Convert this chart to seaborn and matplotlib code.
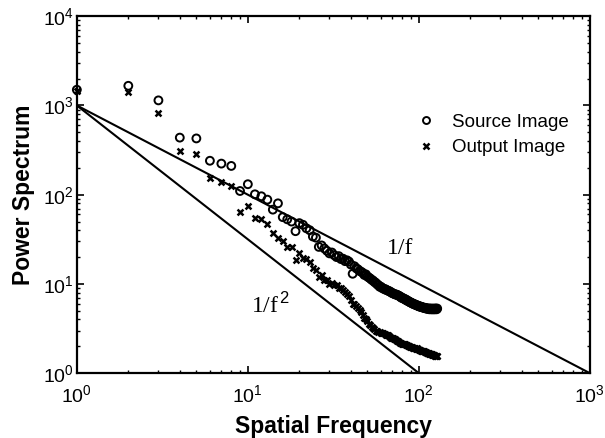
import numpy as np
import pandas as pd
import matplotlib
matplotlib.use("Agg")
import matplotlib.pyplot as plt
import seaborn as sns
from matplotlib.lines import Line2D

# spatial frequencies (integer radial bins)
freq = list(range(1, 129))

source_power = [
    1500, 1660, 1140, 436, 427, 240, 223, 210, 110, 131,
    101, 96, 88, 68, 80, 56, 53, 50, 39, 48,
    46, 42, 40, 34, 33, 26, 27, 25, 23.5, 22,
    22.5, 21, 20, 20.5, 19, 19.2, 18, 18.4, 17.8, 16.5,
    13, 15.8, 15, 14.6, 14, 13.7, 13.3, 12.6, 12.8, 12.1,
    11.8, 11.5, 11.1, 10.9, 10.5, 10.3, 9.9, 9.7, 9.3, 9.3,
    9.0, 8.9, 8.7, 8.7, 8.5, 8.4, 8.3, 8.2, 8.0, 7.9,
    7.8, 7.7, 7.6, 7.6, 7.5, 7.4, 7.3, 7.2, 7.0, 7.0,
    6.9, 6.8, 6.7, 6.7, 6.5, 6.5, 6.4, 6.3, 6.2, 6.2,
    6.1, 6.0, 6.0, 5.9, 5.9, 5.8, 5.8, 5.7, 5.7, 5.6,
    5.6, 5.6, 5.5, 5.5, 5.5, 5.4, 5.4, 5.4, 5.4, 5.3,
    5.3, 5.3, 5.3, 5.3, 5.2, 5.3, 5.2, 5.3, 5.2, 5.2,
    5.3, 5.2, 5.2, 5.3, 5.2, 5.3, 5.2, 5.3,
]

output_power = [
    1450, 1400, 830, 309, 288, 152, 139, 125, 64, 74,
    55, 53, 47, 37, 33, 30, 26, 26, 18.5, 22,
    19.5, 19, 17.7, 15, 14.5, 12, 12.5, 11.2, 11, 10,
    10.3, 9.8, 9.7, 9.1, 8.9, 8.6, 8.2, 7.8, 7.4, 6.6,
    6.0, 5.9, 5.6, 5.4, 5.1, 4.8, 4.5, 4.2, 4.0, 3.8,
    3.6, 3.5, 3.3, 3.2, 3.1, 3.0, 3.0, 2.9, 2.9, 2.85,
    2.8, 2.8, 2.75, 2.7, 2.7, 2.65, 2.6, 2.55, 2.5, 2.5,
    2.45, 2.4, 2.4, 2.35, 2.3, 2.3, 2.25, 2.2, 2.2, 2.15,
    2.15, 2.1, 2.1, 2.05, 2.05, 2.0, 2.0, 2.0, 1.95, 1.95,
    1.95, 1.9, 1.9, 1.9, 1.9, 1.85, 1.9, 1.85, 1.85, 1.8,
    1.8, 1.8, 1.78, 1.78, 1.76, 1.76, 1.75, 1.74, 1.74, 1.72,
    1.7, 1.7, 1.68, 1.68, 1.66, 1.66, 1.64, 1.63, 1.62, 1.6,
    1.6, 1.58, 1.58, 1.56, 1.56, 1.55, 1.55, 1.54,
]

# reference slopes (end points as drawn)
line1_f = [1, 1000]
line1_p = [1000, 1]
line2_f = [1, 100]
line2_p = [1000, 1]

sns.set_style("ticks")
plt.rcParams["font.family"] = ["Liberation Sans", "DejaVu Sans"]
plt.rcParams["mathtext.fontset"] = "custom"
plt.rcParams["mathtext.rm"] = "Liberation Sans"
plt.rcParams["mathtext.it"] = "Liberation Sans:italic"
plt.rcParams["text.color"] = "black"
plt.rcParams["axes.labelcolor"] = "black"

fig = plt.figure(figsize=(6.05, 4.38), dpi=100)
ax = fig.add_axes([0.127, 0.148, 0.848, 0.815])

sns.lineplot(x=line1_f, y=line1_p, color="black", lw=1.5, ax=ax)
sns.lineplot(x=line2_f, y=line2_p, color="black", lw=1.5, ax=ax)

sns.scatterplot(x=freq, y=source_power, marker="o", s=32, facecolor="none",
                edgecolor="black", linewidth=1.4, ax=ax, clip_on=False, zorder=3)
sns.scatterplot(x=freq, y=output_power, marker="x", s=18, color="black",
                linewidth=1.8, ax=ax, clip_on=False, zorder=3)

ax.set_xscale("log")
ax.set_yscale("log")
ax.set_xlim(1, 1000)
ax.set_ylim(1, 10000)

ax.tick_params(which="both", direction="in", top=True, right=True, colors="black")
ax.tick_params(which="major", length=5, width=1.2, labelsize=14)
ax.tick_params(which="minor", length=2.5, width=1)
ax.tick_params(axis="x", which="major", pad=8)
ax.tick_params(axis="y", which="major", pad=2)
for sp in ax.spines.values():
    sp.set_linewidth(1.6)
    sp.set_color("black")

ax.set_xlabel("Spatial Frequency", fontsize=16.5, fontweight="bold", labelpad=6)
ax.set_ylabel("Power Spectrum", fontsize=16.5, fontweight="bold", labelpad=6)

ax.text(78, 25, "1/f", family="Liberation Serif", fontsize=17, ha="center", va="center")
ax.text(13.5, 5.8, r"1/f$^{\,2}$", family="Liberation Serif", fontsize=17,
        ha="center", va="center")

handles = [
    Line2D([], [], ls="none", marker="o", ms=5, mfc="none", mec="black", mew=1.4),
    Line2D([], [], ls="none", marker="x", ms=4, color="black", mew=1.8),
]
ax.legend(handles, ["Source Image", "Output Image"], loc="upper left",
          bbox_to_anchor=(0.625, 0.775), frameon=False, fontsize=13.5,
          handletextpad=0.8, handlelength=1.2, labelspacing=0.45)

fig.savefig("out.png", dpi=100)
